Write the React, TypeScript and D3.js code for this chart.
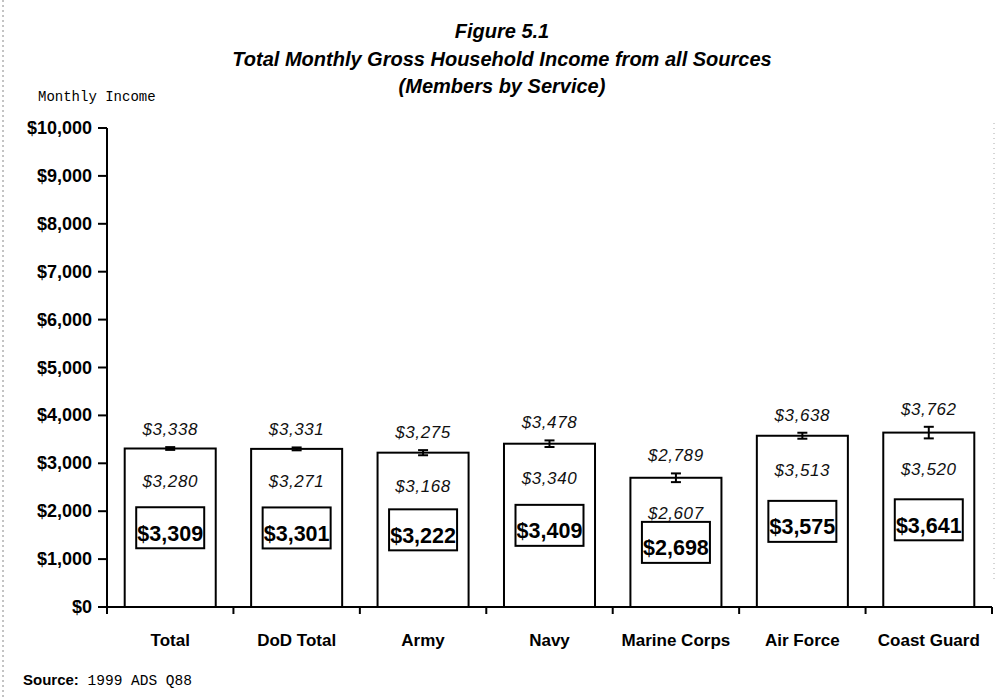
import React from "react";
import * as d3 from "d3";

const categories = ["Total", "DoD Total", "Army", "Navy", "Marine Corps", "Air Force", "Coast Guard"];
const means = [3309, 3301, 3222, 3409, 2698, 3575, 3641];
const lowers = [3280, 3271, 3168, 3340, 2607, 3513, 3520];
const uppers = [3338, 3331, 3275, 3478, 2789, 3638, 3762];
const yTicks = [0, 1000, 2000, 3000, 4000, 5000, 6000, 7000, 8000, 9000, 10000];
const titleLines = ["Figure 5.1", "Total Monthly Gross Household Income from all Sources", "(Members by Service)"];

const W = 997;
const H = 698;
const left = 107;
const right = 992;
const top = 128;
const bottom = 607;

export default function App() {
  const x = d3.scaleBand<string>().domain(categories).range([left, right]).paddingInner(0.28).paddingOuter(0.14);
  const y = d3.scaleLinear().domain([0, 10000]).range([bottom, top]);
  const fmt = d3.format(",");
  const money = (v: number) => "$" + fmt(v);
  const step = x.step();
  const bw = x.bandwidth();
  const boundaries = d3.range(categories.length + 1).map((i) => left + i * step);
  const sans = "Arial, 'Liberation Sans', Helvetica, sans-serif";
  const mono = "'Courier New', 'Liberation Mono', monospace";

  return (
    <svg width={W} height={H} style={{ position: "absolute", left: 0, top: 0, background: "#fff" }}>
      <rect x={0} y={0} width={W} height={H} fill="#fff" />
      {/* scan edges */}
      <line x1={3} x2={3} y1={0} y2={H} stroke="#888" strokeWidth={1} strokeDasharray="2 3" />
      <line x1={994} x2={994} y1={123} y2={580} stroke="#aaa" strokeWidth={1} strokeDasharray="1 4" />

      {titleLines.map((t, i) => (
        <text key={i} x={502} y={38 + i * 27.5} textAnchor="middle" fontFamily={sans} fontWeight="bold" fontStyle="italic" fontSize={20} fill="#000">
          {t}
        </text>
      ))}
      <text x={38} y={101} fontFamily={mono} fontSize={14} fill="#000">Monthly Income</text>

      {/* y axis */}
      <line x1={left} x2={left} y1={top} y2={bottom} stroke="#000" strokeWidth={2} />
      {yTicks.map((v) => (
        <g key={v}>
          <line x1={left - 9} x2={left} y1={y(v)} y2={y(v)} stroke="#000" strokeWidth={2} />
          <text x={92} y={y(v) + 6} textAnchor="end" fontFamily={sans} fontWeight="bold" fontSize={18} fill="#000">
            {money(v)}
          </text>
        </g>
      ))}

      {/* bars */}
      {categories.map((c, i) => {
        const bx = x(c) as number;
        const cx = bx + bw / 2;
        const boxW = 68;
        const boxH = 41;
        const boxCy = y(means[i] / 2);
        return (
          <g key={c}>
            <rect x={bx} y={y(means[i])} width={bw} height={bottom - y(means[i])} fill="#fff" stroke="#000" strokeWidth={2} />
            {/* error bar */}
            <line x1={cx} x2={cx} y1={y(lowers[i])} y2={y(uppers[i])} stroke="#000" strokeWidth={2} />
            <line x1={cx - 5} x2={cx + 5} y1={y(lowers[i])} y2={y(lowers[i])} stroke="#000" strokeWidth={2} />
            <line x1={cx - 5} x2={cx + 5} y1={y(uppers[i])} y2={y(uppers[i])} stroke="#000" strokeWidth={2} />
            <text x={cx} y={y(uppers[i]) - 12} textAnchor="middle" fontFamily={sans} fontStyle="italic" fontSize={17} letterSpacing={0.6} fill="#111">
              {money(uppers[i])}
            </text>
            <text x={cx} y={y(lowers[i]) + 37} textAnchor="middle" fontFamily={sans} fontStyle="italic" fontSize={17} letterSpacing={0.6} fill="#111">
              {money(lowers[i])}
            </text>
            <rect x={cx - boxW / 2} y={boxCy - boxH / 2} width={boxW} height={boxH} fill="#fff" stroke="#000" strokeWidth={2} />
            <text x={cx} y={boxCy + 13} textAnchor="middle" fontFamily={sans} fontWeight="bold" fontSize={21.5} fill="#000">
              {money(means[i])}
            </text>
            <text x={cx} y={646} textAnchor="middle" fontFamily={sans} fontWeight="bold" fontSize={17} fill="#000">
              {c}
            </text>
          </g>
        );
      })}

      {/* x axis */}
      <line x1={left} x2={right} y1={bottom} y2={bottom} stroke="#000" strokeWidth={2} />
      {boundaries.map((b, i) => (
        <line key={i} x1={b} x2={b} y1={bottom} y2={bottom + 7} stroke="#000" strokeWidth={2} />
      ))}

      <text x={23} y={685} fontFamily={sans} fontSize={15} fill="#000">
        <tspan fontWeight="bold">Source:</tspan>
        <tspan fontFamily={mono} fontSize={14.5}> 1999 ADS Q88</tspan>
      </text>
    </svg>
  );
}
